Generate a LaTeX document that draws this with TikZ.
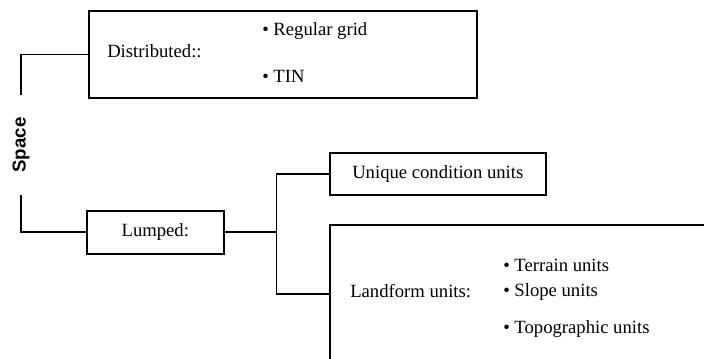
\documentclass[tikz,border=0pt]{standalone}
\usepackage{fontspec}
\setmainfont{Liberation Serif}
\newfontfamily\spacefont{Liberation Sans}
\begin{document}
\begin{tikzpicture}[x=0.75pt,y=-0.75pt,
  every node/.style={font=\fontsize{14pt}{16pt}\selectfont},
  box/.style={draw,line width=1.2pt,inner sep=0pt,anchor=north west},
  txt/.style={anchor=west,inner sep=0pt},
  link/.style={line width=1.2pt},
  thicklink/.style={line width=1.8pt}]
\useasboundingbox (0,0) rectangle (704,359);
\clip (0,0) rectangle (704,359);
% boxes
\node[box,minimum width=388*0.75pt,minimum height=86.5*0.75pt] (dist) at (88,10.5) {};
\node[box,minimum width=137*0.75pt,minimum height=43*0.75pt] (lumped) at (86,210) {};
\node[box,minimum width=216*0.75pt,minimum height=42*0.75pt] (unique) at (329,152) {};
\node[box,minimum width=400*0.75pt,minimum height=138*0.75pt] (landform) at (329,224) {};
% labels
\node[rotate=90,inner xsep=17pt,inner ysep=0pt,font=\spacefont\bfseries\fontsize{14pt}{16pt}\selectfont] (space) at (21,145) {Space};
\node[txt] (distlab) at (107,51) {Distributed::};
\node[txt] (grid) at (262,31) {• Regular grid};
\node[txt] (tin) at (262,76) {• TIN};
\node (lumplab) at (lumped.center) {Lumped:};
\node (uniquelab) at (unique.center) {Unique condition units};
\node[txt] (landlab) at (350,291) {Landform units:};
\node[txt] (terrain) at (503,265) {• Terrain units};
\node[txt] (slope) at (503,292) {• Slope units};
\node[txt] (topo) at (503,329) {• Topographic units};
% connectors
\draw[link] (space.east) |- (dist.west);
\draw[link] (space.west) |- (lumped.west);
\draw[thicklink] (lumped.east) -- ++(52,0) coordinate (j);
\draw[link] (unique.west) -| (j) |- (landform.west);
\end{tikzpicture}
\end{document}
